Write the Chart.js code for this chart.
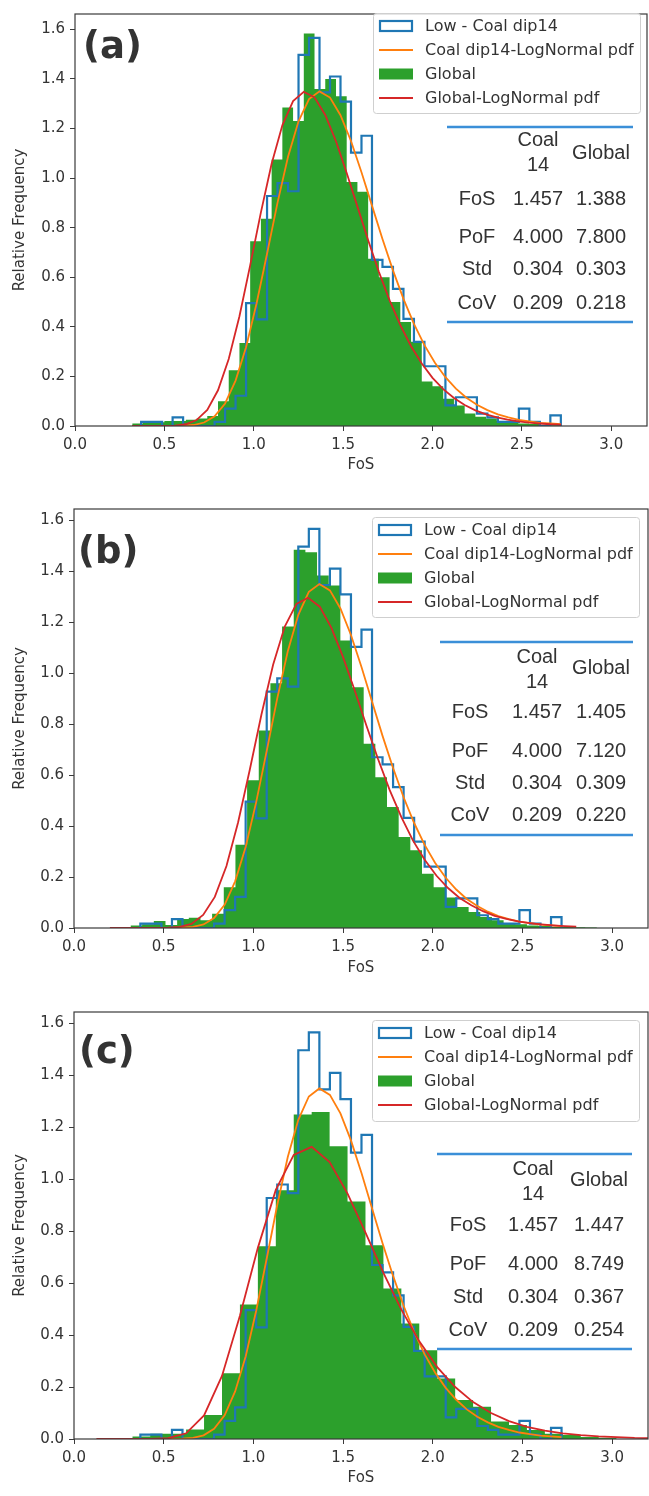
<!DOCTYPE html>
<html>
<head>
<meta charset="utf-8">
<script src="https://cdn.jsdelivr.net/npm/chart.js@4.4.1/dist/chart.umd.min.js"></script>
<style>
  html, body { margin: 0; padding: 0; background: #ffffff; }
  body { width: 649px; height: 1496px; position: relative; overflow: hidden; }
  .panel { position: absolute; left: 0; width: 649px; }
  canvas { display: block; }
</style>
</head>
<body>
<div class="panel" style="top:0px;height:490px"><canvas id="chartA" width="649" height="490"></canvas></div>
<div class="panel" style="top:490px;height:500px"><canvas id="chartB" width="649" height="500"></canvas></div>
<div class="panel" style="top:990px;height:506px"><canvas id="chartC" width="649" height="506"></canvas></div>
<script>
// ---- Low - Coal dip14 histogram (relative frequency), identical in all panels ----
const coalBinStart = 0.37;
const coalBinWidth = 0.0587;
const coalFreq = [0.017, 0.017, 0.0, 0.035, 0.0, 0.0, 0.0, 0.017, 0.07, 0.122,
                  0.496, 0.43, 0.928, 0.98, 0.947, 1.497, 1.566, 1.346, 1.41, 1.309,
                  1.103, 1.171, 0.67, 0.642, 0.553, 0.432, 0.339, 0.241, 0.241, 0.083,
                  0.116, 0.116, 0.05, 0.035, 0.017, 0.017, 0.07, 0.017, 0.0, 0.043];

// Coal dip14 lognormal pdf, sampled at the coal bin edges
const coalPdf = [0.000, 0.000, 0.000, 0.000, 0.001, 0.004, 0.014, 0.039, 0.091, 0.183,
                 0.318, 0.494, 0.695, 0.901, 1.086, 1.229, 1.319, 1.350, 1.325, 1.254,
                 1.150, 1.024, 0.889, 0.754, 0.628, 0.513, 0.412, 0.326, 0.255, 0.197,
                 0.151, 0.114, 0.086, 0.064, 0.047, 0.035, 0.025, 0.019, 0.013, 0.010, 0.007];

// ---- Global histograms ----
const globalBinA = { start: 0.32, width: 0.06 };
const globalFreqA = [0.01, 0.02, 0.015, 0.02, 0.02, 0.025, 0.03, 0.04, 0.10, 0.225,
                     0.335, 0.745, 0.836, 1.075, 1.285, 1.23, 1.583, 1.36, 1.40, 1.33,
                     0.984, 0.945, 0.675, 0.60, 0.50, 0.42, 0.34, 0.18, 0.16, 0.11,
                     0.083, 0.05, 0.037, 0.03, 0.02, 0.015, 0.01, 0.008, 0.005, 0.003];

const globalBinB = { start: 0.315, width: 0.065 };
const globalFreqB = [0.01, 0.015, 0.027, 0.012, 0.035, 0.04, 0.03, 0.056, 0.16, 0.327,
                     0.58, 0.775, 0.96, 1.183, 1.484, 1.475, 1.383, 1.344, 1.128, 0.945,
                     0.723, 0.592, 0.475, 0.357, 0.305, 0.213, 0.16, 0.12, 0.082, 0.063,
                     0.043, 0.03, 0.02, 0.015, 0.01, 0.008, 0.005, 0.004, 0.003, 0.002];

const globalBinC = { start: 0.325, width: 0.1 };
const globalFreqC = [0.01, 0.02, 0.02, 0.037, 0.092, 0.253, 0.518, 0.742, 0.958, 1.25,
                     1.259, 1.127, 0.915, 0.746, 0.58, 0.445, 0.342, 0.233, 0.15, 0.124,
                     0.067, 0.054, 0.035, 0.02, 0.015, 0.008, 0.005];

// ---- Global lognormal pdfs (sample start / step, values) ----
const globalPdfGridA = { start: 0.32, step: 0.06 };
const globalPdfA = [0.000, 0.000, 0.000, 0.000, 0.001, 0.007, 0.024, 0.065, 0.144, 0.270,
                    0.443, 0.648, 0.862, 1.058, 1.213, 1.311, 1.348, 1.326, 1.255, 1.149,
                    1.021, 0.885, 0.749, 0.622, 0.507, 0.407, 0.322, 0.252, 0.194, 0.149,
                    0.113, 0.085, 0.063, 0.047, 0.035, 0.026, 0.019, 0.014, 0.010, 0.007, 0.005];

const globalPdfGridB = { start: 0.2, step: 0.065 };
const globalPdfB = [0.000, 0.000, 0.000, 0.000, 0.000, 0.001, 0.004, 0.016, 0.051, 0.122,
                    0.243, 0.415, 0.621, 0.838, 1.033, 1.183, 1.272, 1.296, 1.261, 1.178,
                    1.063, 0.932, 0.795, 0.663, 0.541, 0.435, 0.343, 0.268, 0.206, 0.157,
                    0.118, 0.089, 0.066, 0.048, 0.036, 0.026, 0.019, 0.014, 0.010, 0.007, 0.005];

const globalPdfGridC = { start: 0.125, step: 0.1 };
const globalPdfC = [0.000, 0.000, 0.000, 0.000, 0.003, 0.022, 0.091, 0.243, 0.475, 0.736,
                    0.959, 1.094, 1.125, 1.066, 0.945, 0.795, 0.640, 0.498, 0.376, 0.277,
                    0.200, 0.142, 0.100, 0.069, 0.047, 0.032, 0.022, 0.015, 0.010, 0.007,
                    0.004, 0.003];

// ---- Axis ticks ----
const xTickStep = 0.5;
const yTickStep = 0.2;
const xLimits = [0, 3.2];

// ---- Legend and statistics table text ----
const legendLabels = ['Low - Coal dip14', 'Coal dip14-LogNormal pdf', 'Global', 'Global-LogNormal pdf'];
const statNames = ['FoS', 'PoF', 'Std', 'CoV'];
const coalStats = ['1.457', '4.000', '0.304', '0.209'];
const globalStatsA = ['1.388', '7.800', '0.303', '0.218'];
const globalStatsB = ['1.405', '7.120', '0.309', '0.220'];
const globalStatsC = ['1.447', '8.749', '0.367', '0.254'];

const COLORS = { coal: '#1f77b4', coalPdf: '#ff7f0e', global: '#2ca02c', globalPdf: '#d62728',
                 table: '#3b8fd8', text: '#333333', frame: '#3a3a3a' };

// step points for a filled histogram (value held until next edge)
function histFill(start, width, freq) {
  const pts = freq.map((h, i) => ({ x: start + i * width, y: h }));
  pts.push({ x: start + freq.length * width, y: freq[freq.length - 1] });
  return pts;
}
// step outline for an unfilled histogram
function histOutline(start, width, freq) {
  const pts = [{ x: start, y: 0 }];
  freq.forEach((h, i) => pts.push({ x: start + i * width, y: h }));
  const end = start + freq.length * width;
  pts.push({ x: end, y: freq[freq.length - 1] });
  pts.push({ x: end, y: 0 });
  return pts;
}
function curve(start, step, vals) {
  return vals.map((v, i) => ({ x: start + i * step, y: v }));
}

// regular ticks from the axis minimum up to its maximum, without the limit itself
function regularTicks(step) {
  return s => {
    const ticks = [];
    const n = Math.floor((s.max - s.min) / step + 1e-6);
    for (let i = 0; i <= n; i++) ticks.push({ value: +(s.min + i * step).toFixed(6) });
    s.ticks = ticks;
  };
}

function makePanel(cfg) {
  const canvas = document.getElementById(cfg.id);
  const W = canvas.width, H = canvas.height;
  const area = cfg.area;
  const yMax = Math.max(...coalFreq, ...cfg.globalFreq) * 1.05;

  const decor = {
    id: 'decor' + cfg.id,
    afterDatasetsDraw(chart) {
      const ctx = chart.ctx;
      const ca = chart.chartArea;
      ctx.save();
      // axes frame
      ctx.strokeStyle = COLORS.frame;
      ctx.lineWidth = 1.2;
      ctx.strokeRect(ca.left, ca.top, ca.right - ca.left, ca.bottom - ca.top);

      // panel tag
      ctx.fillStyle = '#333333';
      ctx.font = 'bold 37px "DejaVu Sans"';
      ctx.textAlign = 'left';
      ctx.textBaseline = 'alphabetic';
      ctx.fillText(cfg.tag, cfg.tagPos[0], cfg.tagPos[1]);

      // axis titles
      ctx.font = '15px "DejaVu Sans"';
      ctx.fillStyle = COLORS.text;
      ctx.textAlign = 'center';
      ctx.textBaseline = 'middle';
      ctx.fillText('FoS', (ca.left + ca.right) / 2, cfg.xTitleY);
      ctx.save();
      ctx.translate(20, (ca.top + ca.bottom) / 2);
      ctx.rotate(-Math.PI / 2);
      ctx.fillText('Relative Frequency', 0, 0);
      ctx.restore();

      // legend
      const L = cfg.legend;
      ctx.beginPath();
      if (ctx.roundRect) ctx.roundRect(L.x + 0.5, L.y + 0.5, L.w, L.h, 3);
      else ctx.rect(L.x + 0.5, L.y + 0.5, L.w, L.h);
      ctx.fillStyle = 'rgba(255,255,255,0.8)';
      ctx.fill();
      ctx.strokeStyle = '#cfcfcf';
      ctx.lineWidth = 1;
      ctx.stroke();
      const hx = L.x + 6, hw = 34;
      legendLabels.forEach((label, i) => {
        const cy = L.y + 13 + i * 24;
        if (i === 0) {
          ctx.strokeStyle = COLORS.coal; ctx.lineWidth = 2.2;
          ctx.strokeRect(hx + 1, cy - 5, hw - 2, 10);
        } else if (i === 2) {
          ctx.fillStyle = COLORS.global;
          ctx.fillRect(hx, cy - 5.5, hw, 11);
        } else {
          ctx.strokeStyle = i === 1 ? COLORS.coalPdf : COLORS.globalPdf;
          ctx.lineWidth = 2;
          ctx.beginPath(); ctx.moveTo(hx, cy); ctx.lineTo(hx + hw, cy); ctx.stroke();
        }
        ctx.fillStyle = COLORS.text;
        ctx.font = '16px "DejaVu Sans"';
        ctx.textAlign = 'left';
        ctx.textBaseline = 'middle';
        ctx.fillText(label, hx + hw + 12, cy + 1);
      });

      // statistics table
      const T = cfg.table;
      ctx.strokeStyle = COLORS.table;
      ctx.lineWidth = 2.5;
      ctx.beginPath();
      ctx.moveTo(T.x1, T.yTop); ctx.lineTo(T.x2, T.yTop);
      ctx.moveTo(T.x1, T.yBot); ctx.lineTo(T.x2, T.yBot);
      ctx.stroke();
      ctx.fillStyle = COLORS.text;
      ctx.font = '20px "Liberation Sans"';
      ctx.textAlign = 'center';
      ctx.textBaseline = 'middle';
      ctx.fillText('Coal', T.cols[1], T.coalY);
      ctx.fillText('14', T.cols[1], T.coalY + 25);
      ctx.fillText('Global', T.cols[2], T.globalY);
      statNames.forEach((name, i) => {
        ctx.fillText(name, T.cols[0], T.rows[i]);
        ctx.fillText(coalStats[i], T.cols[1], T.rows[i]);
        ctx.fillText(cfg.globalStats[i], T.cols[2], T.rows[i]);
      });
      ctx.restore();
    }
  };

  const tickFont = { family: 'DejaVu Sans', size: 15 };

  return new Chart(canvas, {
    type: 'line',
    data: {
      datasets: [
        {
          label: legendLabels[3],
          data: curve(cfg.pdfGrid.start, cfg.pdfGrid.step, cfg.globalPdf),
          borderColor: COLORS.globalPdf, borderWidth: 1.8, fill: false, order: 1
        },
        {
          label: legendLabels[1],
          data: curve(coalBinStart, coalBinWidth, coalPdf),
          borderColor: COLORS.coalPdf, borderWidth: 1.8, fill: false, order: 2
        },
        {
          label: legendLabels[0],
          data: histOutline(coalBinStart, coalBinWidth, coalFreq),
          borderColor: COLORS.coal, borderWidth: 2.2, stepped: 'before', fill: false, order: 3
        },
        {
          label: legendLabels[2],
          data: histFill(cfg.globalBin.start, cfg.globalBin.width, cfg.globalFreq),
          borderColor: 'rgba(0,0,0,0)', borderWidth: 0, backgroundColor: COLORS.global,
          stepped: 'before', fill: 'origin', order: 4
        }
      ]
    },
    options: {
      responsive: false,
      animation: false,
      devicePixelRatio: 1,
      layout: { padding: { top: area.top, right: W - area.right, left: 0, bottom: 0 } },
      elements: { point: { radius: 0, hoverRadius: 0 }, line: { tension: 0 } },
      plugins: { legend: { display: false }, tooltip: { enabled: false } },
      scales: {
        x: {
          type: 'linear', min: xLimits[0], max: xLimits[1],
          ticks: { font: tickFont, color: COLORS.text, padding: 5,
                   maxRotation: 0, autoSkip: false, callback: v => v.toFixed(1) },
          grid: { display: true, drawOnChartArea: false, drawTicks: true, tickLength: 5,
                  color: COLORS.frame },
          border: { display: false },
          afterBuildTicks: regularTicks(xTickStep),
          afterFit: s => { s.height = H - area.bottom; }
        },
        y: {
          type: 'linear', min: 0, max: yMax,
          ticks: { font: tickFont, color: COLORS.text, padding: 5, autoSkip: false,
                   callback: v => v.toFixed(1) },
          grid: { display: true, drawOnChartArea: false, drawTicks: true, tickLength: 5,
                  color: COLORS.frame },
          border: { display: false },
          afterBuildTicks: regularTicks(yTickStep),
          afterFit: s => { s.width = area.left; }
        }
      }
    },
    plugins: [decor]
  });
}

makePanel({
  id: 'chartA', tag: '(a)', tagPos: [83, 58],
  area: { left: 75, top: 5, right: 647, bottom: 426 },
  globalBin: globalBinA, globalFreq: globalFreqA,
  pdfGrid: globalPdfGridA, globalPdf: globalPdfA, globalStats: globalStatsA,
  xTitleY: 465,
  legend: { x: 373, y: 13, w: 267, h: 100 },
  table: { x1: 447, x2: 633, yTop: 127, yBot: 322, coalY: 140, globalY: 153,
           rows: [199, 237, 269, 303], cols: [477, 538, 601] }
});

makePanel({
  id: 'chartB', tag: '(b)', tagPos: [78, 73],
  area: { left: 74, top: 19, right: 648, bottom: 438 },
  globalBin: globalBinB, globalFreq: globalFreqB,
  pdfGrid: globalPdfGridB, globalPdf: globalPdfB, globalStats: globalStatsB,
  xTitleY: 478,
  legend: { x: 372, y: 27, w: 267, h: 100 },
  table: { x1: 440, x2: 633, yTop: 152, yBot: 345, coalY: 167, globalY: 178,
           rows: [222, 261, 293, 325], cols: [470, 537, 601] }
});

makePanel({
  id: 'chartC', tag: '(c)', tagPos: [79, 73],
  area: { left: 74, top: 22, right: 648, bottom: 449 },
  globalBin: globalBinC, globalFreq: globalFreqC,
  pdfGrid: globalPdfGridC, globalPdf: globalPdfC, globalStats: globalStatsC,
  xTitleY: 488,
  legend: { x: 372, y: 30, w: 267, h: 101 },
  table: { x1: 437, x2: 632, yTop: 164, yBot: 359, coalY: 179, globalY: 190,
           rows: [235, 274, 307, 340], cols: [468, 533, 599] }
});
</script>
</body>
</html>
